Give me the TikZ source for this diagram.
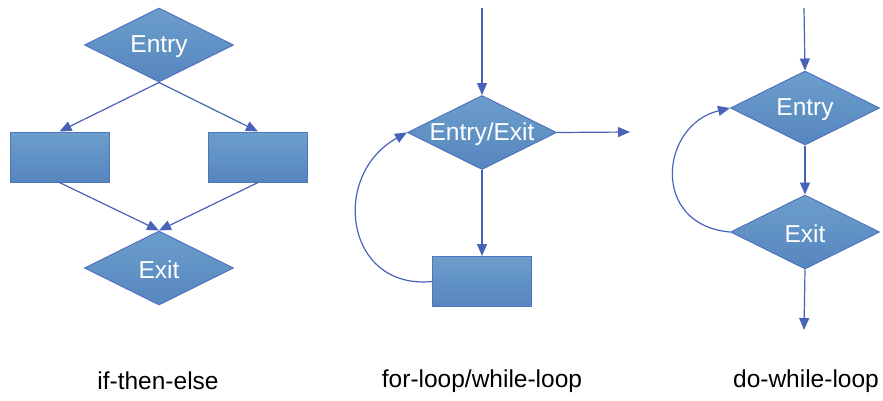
\documentclass[tikz,border=0pt]{standalone}
\usepackage{fontspec}
\setmainfont{Liberation Sans}
\usetikzlibrary{shapes.geometric,arrows.meta}
\definecolor{filltop}{RGB}{108,158,204}
\definecolor{fillbot}{RGB}{86,134,190}
\definecolor{bordercol}{RGB}{80,116,190}
\definecolor{arrowcol}{RGB}{72,98,184}
\begin{document}
\begin{tikzpicture}[x=1pt,y=-1pt,
  shapebase/.style={draw=bordercol,line width=1pt,top color=filltop,bottom color=fillbot,inner sep=0pt},
  shapetext/.style={text=white,font=\fontsize{24.5}{28}\selectfont,inner sep=0pt,yshift=-2pt},
  decision/.style={shapebase,diamond,minimum width=149pt,minimum height=74pt,
     label={[shapetext]center:#1}},
  procbox/.style={shapebase,rectangle,minimum width=99pt,minimum height=50pt},
  flow/.style={draw=arrowcol,line width=1.2pt,-{Triangle[length=12pt,width=10pt]}},
  caption/.style={font=\fontsize{24.5}{28}\selectfont,text=black}]
\useasboundingbox (0,0) rectangle (883,400);
% if-then-else
\node[decision=Entry] (ientry) at (159,45) {};
\node[procbox] (ileft) at (59.5,157) {};
\node[procbox] (iright) at (258,157) {};
\node[decision=Exit] (iexit) at (159,268) {};
\draw[flow] (ientry.south) -- (ileft.north);
\draw[flow] (ientry.south) -- (iright.north);
\draw[flow] (ileft.south) -- (iexit.north);
\draw[flow] (iright.south) -- (iexit.north);
% for-loop
\coordinate (ftop) at (482,8);
\coordinate (fout) at (630,132);
\node[decision=Entry/Exit] (fentry) at (482,132.5) {};
\node[procbox] (fbody) at (482,281.5) {};
\draw[flow] (ftop) -- (fentry.north);
\draw[flow] (fentry.east) -- (fout);
\draw[flow] (fentry.south) -- (fbody.north);
\draw[flow] (fbody.west) .. controls (345,290) and (330,175) .. (fentry.west);
% do-while
\coordinate (dtop) at (804,8);
\coordinate (dout) at (804,330);
\node[decision=Entry] (dentry) at (805,108) {};
\node[decision=Exit] (dexit) at (805,232) {};
\draw[flow] (dtop) -- (dentry.north);
\draw[flow] (dentry.south) -- (dexit.north);
\draw[flow] (dexit.south) -- (dout);
\draw[flow] (dexit.west) .. controls (650,225) and (660,125) .. (dentry.west);
% captions
\node[caption] (c1) at (158,381) {if-then-else};
\node[caption] (c2) at (482,381) {for-loop/while-loop};
\node[caption] (c3) at (806,381) {do-while-loop};
\end{tikzpicture}
\end{document}
